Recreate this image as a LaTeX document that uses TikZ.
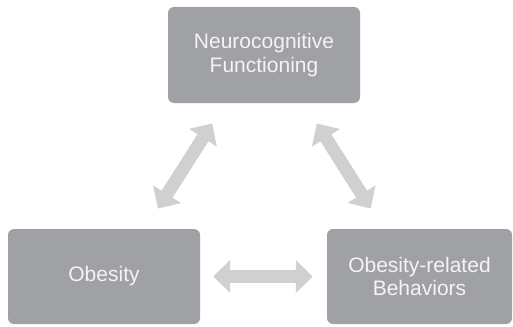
\documentclass[tikz,border=0pt]{standalone}
\usepackage{fontspec}
\setmainfont{Liberation Sans}
\usepackage{xcolor}
\usetikzlibrary{arrows.meta}

\definecolor{boxgray}{HTML}{A0A1A4}
\definecolor{arrowgray}{HTML}{CFD0D1}
\definecolor{textwhite}{HTML}{F4F4F4}

\begin{document}
\begin{tikzpicture}[x=1pt, y=1pt, node distance=221.5pt,
  every node/.style={font=\fontsize{21}{23.5}\selectfont},
  box/.style={fill=boxgray, rounded corners=6pt, text=textwhite, align=center, minimum width=192pt, minimum height=95pt, inner sep=0pt},
  bigarrow/.style={draw=arrowgray, line width=13pt, {Triangle[length=17pt, width=32pt]}-{Triangle[length=17pt, width=32pt]}}]
\useasboundingbox (0,0) rectangle (513,-326);
\node[box, minimum height=96pt] (neuro) at (264,-55) {Neurocognitive\\Functioning};
\node[box, below of=neuro, xshift=-160pt] (obesity) {Obesity};
\node[box, right of=obesity, xshift=94pt, minimum width=185pt] (behav) {Obesity-related\\Behaviors};

\draw[bigarrow, shorten <=24pt, shorten >=24pt] ([xshift=41pt]obesity.north) -- ([xshift=-39pt]neuro.south);
\draw[bigarrow, shorten <=24pt, shorten >=24pt] ([xshift=40pt]neuro.south) -- ([xshift=-36pt]behav.north);
\draw[bigarrow, shorten <=13pt, shorten >=14pt] (obesity) -- (behav);
\end{tikzpicture}
\end{document}
